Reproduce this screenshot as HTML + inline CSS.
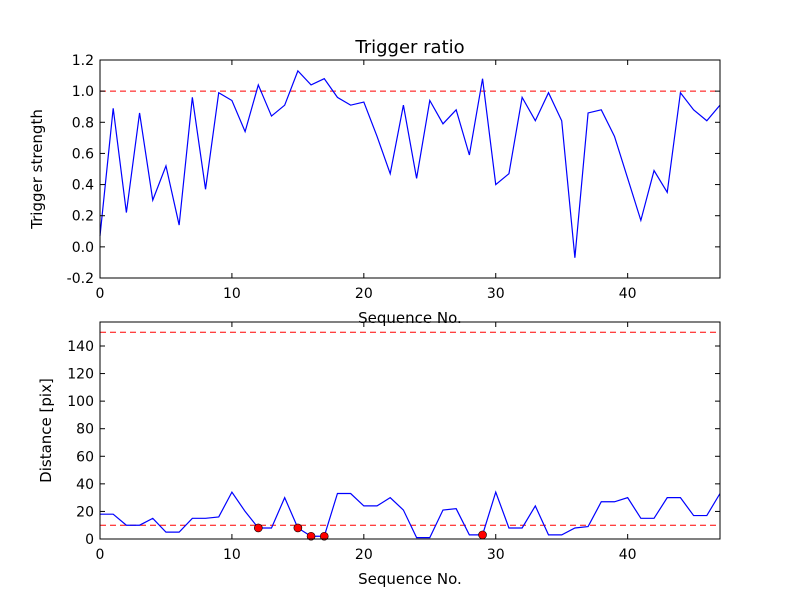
<!DOCTYPE html>
<html><head><meta charset="utf-8"><style>body{margin:0;background:#fff}svg{display:block;font-family:"DejaVu Sans","Liberation Sans",sans-serif}</style></head>
<body>
<svg id="c" width="800" height="600"></svg>
<script>
const seqTop = [0.07,0.89,0.22,0.86,0.30,0.52,0.14,0.96,0.37,0.99,0.94,0.74,1.04,0.84,0.91,1.13,1.04,1.08,0.96,0.91,0.93,0.71,0.47,0.91,0.44,0.94,0.79,0.88,0.59,1.08,0.40,0.47,0.96,0.81,0.99,0.81,-0.07,0.86,0.88,0.71,0.44,0.17,0.49,0.35,0.99,0.88,0.81,0.91];
const distance = [18,18,10,10,15,5,5,15,15,16,34,20,8,8,30,8,2,2,33,33,24,24,30,21,1,1,21,22,3,3,34,8,8,24,3,3,8,9,27,27,30,15,15,30,30,17,17,33];
const flaggedIdx = [12,15,16,17,29];
const topYTicks = ["-0.2","0.0","0.2","0.4","0.6","0.8","1.0","1.2"];
const botYTicks = ["0","20","40","60","80","100","120","140"];
const xTicks = ["0","10","20","30","40"];
const topThreshold = 1.0, botThresholds = [150,10];

const NS="http://www.w3.org/2000/svg", svg=document.getElementById('c');
function el(t,a,p){const e=document.createElementNS(NS,t);for(const k in a)e.setAttribute(k,a[k]);(p||svg).appendChild(e);return e;}
const X0=100,X1=720,xmax=47;
const sx=v=>X0+(X1-X0)*v/xmax;
function axes(name,top,bot,ymin,ymax,yt,data,thr,ylabel,dots){
  const sy=v=>bot-(bot-top)*(v-ymin)/(ymax-ymin);
  const g=el('g',{});
  thr.forEach(t=>{const l=el('line',{x1:X0,x2:X1,y1:sy(t),y2:sy(t),stroke:'#f00','stroke-width':1,'stroke-dasharray':'6,4'},g);});
  const p=el('polyline',{points:data.map((v,i)=>sx(i)+','+sy(v)).join(' '),fill:'none',stroke:'#00f','stroke-width':1.2},g);
  
  if(dots)dots.forEach(i=>{const c=el('circle',{cx:sx(i),cy:sy(data[i]),r:4,fill:'#f00',stroke:'#000','stroke-width':0.6},g);});
  el('rect',{x:X0,y:top,width:X1-X0,height:bot-top,fill:'none',stroke:'#000','stroke-width':1},g);
  yt.forEach(s=>{const v=parseFloat(s),y=sy(v);
    el('line',{x1:X0,x2:X0+5,y1:y,y2:y,stroke:'#000'},g);el('line',{x1:X1,x2:X1-5,y1:y,y2:y,stroke:'#000'},g);
    const t=el('text',{x:X0-6,y:y+5,'text-anchor':'end','font-size':14},g);t.textContent=s;});
  xTicks.forEach(s=>{const x=sx(parseFloat(s));
    el('line',{x1:x,x2:x,y1:bot,y2:bot-5,stroke:'#000'},g);el('line',{x1:x,x2:x,y1:top,y2:top+5,stroke:'#000'},g);
    const t=el('text',{x:x,y:bot+20,'text-anchor':'middle','font-size':14},g);t.textContent=s;});
  const xl=el('text',{x:410,y:bot+45,'text-anchor':'middle','font-size':15},g);xl.textContent='Sequence No.';
  const yl=el('text',{x:0,y:0,'text-anchor':'middle','font-size':15,transform:`translate(${ylabel[1]},${(top+bot)/2}) rotate(-90)`},g);yl.textContent=ylabel[0];
}
axes('top-plot',60,278,-0.2,1.2,topYTicks,seqTop,[topThreshold],['Trigger strength',42]);
axes('bottom-plot',322,539,0,157.4,botYTicks,distance,botThresholds,['Distance [pix]',51],flaggedIdx);
const ti=el('text',{x:410,y:53,'text-anchor':'middle','font-size':18});ti.textContent='Trigger ratio';


</script>
</body></html>
